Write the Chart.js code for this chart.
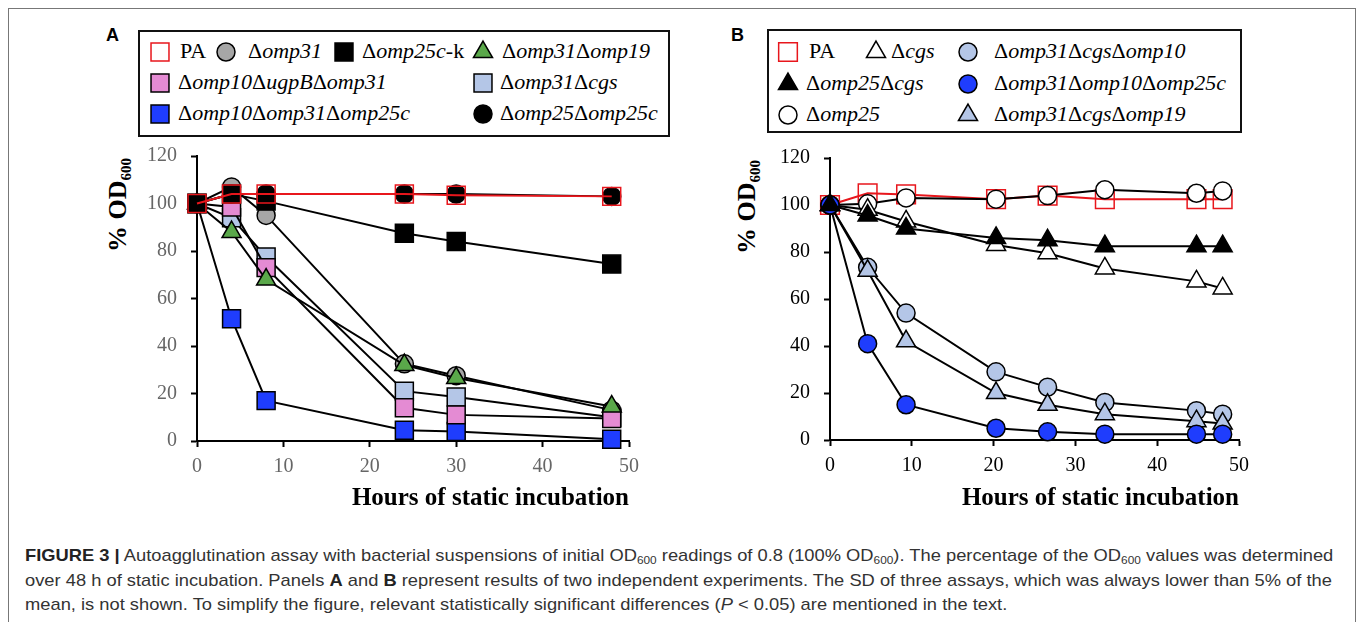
<!DOCTYPE html>
<html><head><meta charset="utf-8">
<script src="https://cdn.jsdelivr.net/npm/chart.js@4/dist/chart.umd.min.js"></script>
<style>
html,body{margin:0;padding:0;background:#fff;width:1360px;height:622px;overflow:hidden;position:relative;}
#frame{position:absolute;left:8px;top:8px;width:1346px;height:640px;border:1px solid #777;}
canvas.chart{position:absolute;}
.legbox{position:absolute;border:2px solid #111;box-sizing:border-box;}
.leg{position:absolute;font-family:'Liberation Serif','Times New Roman',serif;font-size:22px;line-height:26px;white-space:nowrap;color:#000;}
.mk{position:absolute;}
.panel{position:absolute;font-family:'Liberation Sans',Arial,sans-serif;font-weight:bold;font-size:18px;line-height:18px;color:#000;}
.ytitle{position:absolute;font-family:'Liberation Serif','Times New Roman',serif;font-weight:bold;font-size:26px;line-height:30px;white-space:nowrap;transform:translate(-50%,-50%) rotate(-90deg);color:#000;}
.ytitle sub{font-size:15px;vertical-align:-5px;line-height:0;}
#caption{position:absolute;left:25px;top:544px;font-family:'Liberation Sans Narrow','Liberation Sans',Arial,sans-serif;font-size:17px;line-height:24.5px;color:#333;}
#caption div{white-space:nowrap;transform-origin:0 0;}
#caption sub{font-size:11px;vertical-align:-3px;line-height:0;}
#caption b{color:#222;}
</style></head><body>
<div id="frame"></div>
<div class="panel" style="left:106px;top:26px;">A</div>
<div class="panel" style="left:731px;top:26px;">B</div>
<div class="legbox" style="left:138px;top:30px;width:532px;height:107px;"></div>
<div class="legbox" style="left:767px;top:29px;width:475px;height:104px;"></div>
<div class="ytitle" style="left:118px;top:205px;">% OD<sub>600</sub></div>
<div class="ytitle" style="left:747px;top:207px;">% OD<sub>600</sub></div>
<canvas id="chartA" class="chart" width="560" height="380" style="left:100px;top:140px;width:560px;height:380px;"></canvas>
<canvas id="chartB" class="chart" width="540" height="380" style="left:730px;top:140px;width:540px;height:380px;"></canvas>
<div id="legends"></div>
<div id="caption">
<div id="cap1"><b>FIGURE 3 |</b> Autoagglutination assay with bacterial suspensions of initial OD<sub>600</sub> readings of 0.8 (100% OD<sub>600</sub>). The percentage of the OD<sub>600</sub> values was determined</div>
<div id="cap2">over 48 h of static incubation. Panels <b>A</b> and <b>B</b> represent results of two independent experiments. The SD of three assays, which was always lower than 5% of the</div>
<div id="cap3">mean, is not shown. To simplify the figure, relevant statistically significant differences (<i>P</i> &lt; 0.05) are mentioned in the text.</div>
</div>
<script>
// ---------------- DATA ----------------
const hoursA = [0, 4, 8, 24, 30, 48];
const hoursB = [0, 4.6, 9.3, 20.3, 26.6, 33.6, 44.8, 48];
const xTicks = [0, 10, 20, 30, 40, 50];
const yTicks = [0, 20, 40, 60, 80, 100, 120];

const labelsA = ['PA', 'Δomp31', 'Δomp25c-k', 'Δomp31Δomp19',
  'Δomp10ΔugpBΔomp31', 'Δomp31Δcgs', 'Δomp10Δomp31Δomp25c', 'Δomp25Δomp25c'];
const A_PA        = [100, 104, 104, 104, 103.5, 103];
const A_omp31     = [100, 107, 95, 32.5, 27.5, 13];
const A_omp25ck   = [100, 104, 101, 87.5, 84, 74.5];
const A_omp31_19  = [100, 88, 68, 32, 26.5, 14.5];
const A_10_ugpB_31 = [100, 98.5, 73, 14, 11, 9.5];
const A_omp31_cgs = [100, 94, 77.5, 21, 18.5, 10];
const A_10_31_25c = [100, 51.5, 17, 4.5, 4, 0.7];
const A_25_25c    = [100, 104, 104, 104, 104, 103];

const labelsB = ['PA', 'Δcgs', 'Δomp31ΔcgsΔomp10', 'Δomp25Δcgs',
  'Δomp31Δomp10Δomp25c', 'Δomp25', 'Δomp31ΔcgsΔomp19'];
const B_PA         = [100, 105, 104.5, 102.5, 104, 102.5, 102.5, 102.5];
const B_cgs        = [100, 98, 93, 83, 79.5, 73, 67.5, 64.5];
const B_31_cgs_10  = [100, 73.5, 54, 29, 22.5, 16, 12.5, 11];
const B_25_cgs     = [100, 95.5, 90, 86, 85, 82.5, 82.5, 82.5];
const B_31_10_25c  = [100, 41, 15, 5, 3.5, 2.5, 2.5, 2.5];
const B_omp25      = [100, 100.5, 103, 102.5, 104, 106.5, 105, 106];
const B_31_cgs_19  = [100, 72, 42, 20, 15, 11, 8, 7];

// ---------------- STYLES ----------------
const RED = '#e8161c', GRAY = '#a6a6a6', GREEN = '#5aa84a', PINK = '#e48bd3',
      LBLUE = '#b4c6e7', BLUE = '#1f3dfd', BLACK = '#000', WHITE = '#fff';
const SQ = 12.7, CI = 9, TR = 11;
const stylesA = [
  {shape:'rect', r:SQ, fill:'rgba(0,0,0,0)', stroke:RED, line:RED},
  {shape:'circle', r:CI, fill:GRAY, stroke:BLACK, line:BLACK},
  {shape:'rect', r:SQ, fill:BLACK, stroke:BLACK, line:BLACK},
  {shape:'triangle', r:TR, fill:GREEN, stroke:BLACK, line:BLACK},
  {shape:'rect', r:SQ, fill:PINK, stroke:BLACK, line:BLACK},
  {shape:'rect', r:SQ, fill:LBLUE, stroke:BLACK, line:BLACK},
  {shape:'rect', r:SQ, fill:BLUE, stroke:BLACK, line:BLACK},
  {shape:'circle', r:CI, fill:BLACK, stroke:BLACK, line:BLACK}
];
const stylesB = [
  {shape:'rect', r:13.2, fill:'rgba(0,0,0,0)', stroke:RED, line:RED},
  {shape:'triangle', r:TR, fill:WHITE, stroke:BLACK, line:BLACK},
  {shape:'circle', r:CI, fill:LBLUE, stroke:BLACK, line:BLACK},
  {shape:'triangle', r:TR, fill:BLACK, stroke:BLACK, line:BLACK},
  {shape:'circle', r:CI, fill:BLUE, stroke:BLACK, line:BLACK},
  {shape:'circle', r:CI, fill:WHITE, stroke:BLACK, line:BLACK},
  {shape:'triangle', r:TR, fill:LBLUE, stroke:BLACK, line:BLACK}
];
// legend layout: [marker center x, row center y, text left x]
const legendPosA = [[160,52,180],[226,52,248],[344,52,362],[483,52,502],
                    [160,83,178],[483,83,500],[160,114,178],[483,114,500]];
const legendPosB = [[788,52,809],[876,52,891],[968,52,994],[788,84,806],
                    [968,84,994],[788,115,806],[968,115,994]];
// draw order (1 = on top)
const orderA = [1, 8, 2, 4, 5, 6, 7, 3];
const orderB = [7, 5, 4, 1, 2, 6, 3];

// ---------------- BUILD ----------------
function pts(xs, ys){ return xs.map((x,i)=>({x:x, y:ys[i]})); }
function makeDatasets(hours, series, labels, styles, order){
  return series.map((s,i)=>({
    label: labels[i], data: pts(hours, s), order: order[i],
    borderColor: styles[i].line, borderWidth: 2, tension: 0,
    pointStyle: styles[i].shape, pointRadius: styles[i].r, pointHoverRadius: styles[i].r,
    pointBackgroundColor: styles[i].fill, pointBorderColor: styles[i].stroke,
    pointBorderWidth: 1.5, clip: false, fill: false
  }));
}
const serif = "'Liberation Serif','Times New Roman',serif";
function makeOptions(tickColor, yWidth, xHeight, pad){
  const grid = {display:true, drawOnChartArea:false, drawTicks:true, tickLength:6, tickColor:'#000', tickWidth:2};
  const border = {display:true, color:'#000', width:2};
  return {
    responsive:false, animation:false, devicePixelRatio:1,
    layout:{padding:pad, autoPadding:false},
    plugins:{legend:{display:false}, tooltip:{enabled:false}},
    events: [],
    scales:{
      x:{type:'linear', min:0, max:50,
        afterBuildTicks:(s)=>{ s.ticks = xTicks.map(v=>({value:v})); },
        ticks:{color:tickColor, font:{family:serif, size:20}, padding:8, maxRotation:0},
        grid:grid, border:border,
        title:{display:true, text:'Hours of static incubation', align:'end', color:'#000',
               font:{family:serif, size:25, weight:'bold'}, padding:{top:0, bottom:6}},
        afterFit:(s)=>{ s.height = xHeight; s.paddingLeft = 0; s.paddingRight = 0; }
      },
      y:{type:'linear', min:0, max:120,
        afterBuildTicks:(s)=>{ s.ticks = yTicks.map(v=>({value:v})); },
        ticks:{color:tickColor, font:{family:serif, size:20}, padding:14},
        grid:grid, border:border,
        afterFit:(s)=>{ s.width = yWidth; s.paddingTop = 0; s.paddingBottom = 0; }
      }
    }
  };
}
const seriesA = [A_PA, A_omp31, A_omp25ck, A_omp31_19, A_10_ugpB_31, A_omp31_cgs, A_10_31_25c, A_25_25c];
const seriesB = [B_PA, B_cgs, B_31_cgs_10, B_25_cgs, B_31_10_25c, B_omp25, B_31_cgs_19];

new Chart(document.getElementById('chartA'), {
  type:'line',
  data:{datasets: makeDatasets(hoursA, seriesA, labelsA, stylesA, orderA)},
  options: makeOptions('#666', 97, 79, {left:0, top:16, right:31, bottom:0})
});
new Chart(document.getElementById('chartB'), {
  type:'line',
  data:{datasets: makeDatasets(hoursB, seriesB, labelsB, stylesB, orderB)},
  options: makeOptions('#000', 100, 80, {left:0, top:18, right:31, bottom:0})
});

// ---------------- LEGENDS ----------------
function labelHTML(t){ return t.replace(/Δ([^Δ\-]+)/g, 'Δ<i>$1</i>'); }
function drawMarker(cx, cy, st){
  const c = document.createElement('canvas');
  c.width = 30; c.height = 30; c.className = 'mk';
  c.style.left = (cx-15)+'px'; c.style.top = (cy-15)+'px';
  const ctx = c.getContext('2d');
  ctx.fillStyle = st.fill; ctx.strokeStyle = st.stroke; ctx.lineWidth = 1.5;
  Chart.helpers.drawPoint(ctx, {pointStyle:st.shape, radius:st.r, rotation:0, borderWidth:1.5}, 15, 15);
  return c;
}
function buildLegend(labels, styles, pos){
  const host = document.getElementById('legends');
  labels.forEach((lab,i)=>{
    const [mx, my, tx] = pos[i];
    host.appendChild(drawMarker(mx, my, styles[i]));
    const s = document.createElement('div');
    s.className = 'leg'; s.style.left = tx+'px'; s.style.top = (my-14)+'px';
    s.innerHTML = labelHTML(lab);
    host.appendChild(s);
  });
}
buildLegend(labelsA, stylesA, legendPosA);
buildLegend(labelsB, stylesB, legendPosB);

// ---------------- CAPTION FIT ----------------
(function(){
  const l1 = document.getElementById('cap1');
  const w = l1.scrollWidth;
  const k = 1308 / w;
  ['cap1','cap2','cap3'].forEach(id=>{ document.getElementById(id).style.transform = 'scaleX('+k+')'; });
})();
</script>
</body></html>
